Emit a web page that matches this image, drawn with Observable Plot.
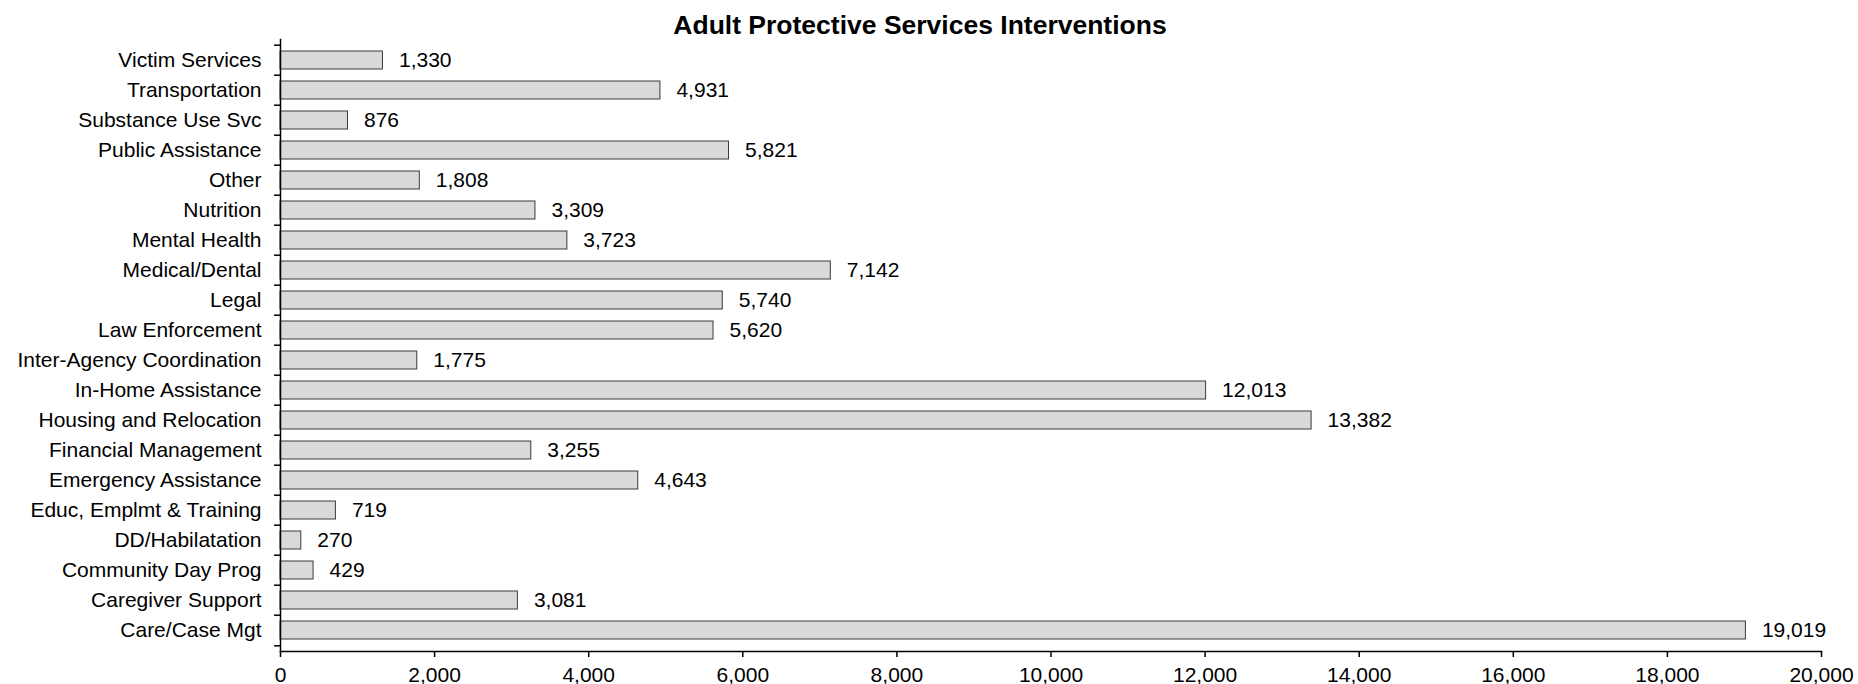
<!DOCTYPE html>
<html>
<head>
<meta charset="utf-8">
<script src="https://cdn.jsdelivr.net/npm/d3@7"></script>
<script src="https://cdn.jsdelivr.net/npm/@observablehq/plot@0.6"></script>
<style>
  html, body { margin: 0; padding: 0; background: white; overflow: hidden; }
  #title {
    box-sizing: border-box;
    width: 1840px; height: 34px; padding-top: 12px;
    font-family: "Liberation Sans", Arial, sans-serif;
    font-weight: bold; font-size: 26.5px; line-height: 26.5px;
    text-align: center; color: black; overflow: visible; white-space: nowrap;
  }
  #chart svg { display: block; }
</style>
</head>
<body>
<div id="title">Adult Protective Services Interventions</div>
<div id="chart"></div>
<script>
const categories = [
  "Victim Services", "Transportation", "Substance Use Svc", "Public Assistance",
  "Other", "Nutrition", "Mental Health", "Medical/Dental", "Legal",
  "Law Enforcement", "Inter-Agency Coordination", "In-Home Assistance",
  "Housing and Relocation", "Financial Management", "Emergency Assistance",
  "Educ, Emplmt & Training", "DD/Habilatation", "Community Day Prog",
  "Caregiver Support", "Care/Case Mgt"
];
const values = [
  1330, 4931, 876, 5821, 1808, 3309, 3723, 7142, 5740, 5620,
  1775, 12013, 13382, 3255, 4643, 719, 270, 429, 3081, 19019
];
const xTicks = [0, 2000, 4000, 6000, 8000, 10000, 12000, 14000, 16000, 18000, 20000];

const data = categories.map((c, i) => ({category: c, value: values[i]}));

const width = 1858, height = 650;
const marginTop = 5, marginBottom = 33, marginLeft = 280, marginRight = 37;
const padInner = 0.4;
const step = (height - marginTop - marginBottom) / categories.length;
const fmt = d3.format(",");

const chart = Plot.plot({
  width, height, marginTop, marginBottom, marginLeft, marginRight,
  style: {fontSize: "21px", fontFamily: "'Liberation Sans', Arial, sans-serif", color: "black", background: "white", overflow: "visible"},
  x: {domain: [0, 20000]},
  y: {domain: categories, paddingInner: padInner, paddingOuter: padInner / 2},
  marks: [
    Plot.barX(data, {x: "value", y: "category", fill: "#d9d9d9", stroke: "#3a3a3a", strokeWidth: 1}),
    Plot.text(data, {x: "value", y: "category", text: d => fmt(d.value), textAnchor: "start", dx: 16, fill: "black"}),
    Plot.axisY({tickSize: 6, text: null, label: null, dy: -step / 2, strokeWidth: 1.5}),
    Plot.axisY([categories[categories.length - 1]], {tickSize: 6, text: null, label: null, dy: step / 2, strokeWidth: 1.5}),
    Plot.axisY({tickSize: 0, tickPadding: 19, label: null}),
    Plot.axisX({ticks: xTicks, tickFormat: fmt, tickSize: 6, tickPadding: 10, label: null, strokeWidth: 1.5}),
    Plot.frame({anchor: "left", strokeWidth: 1.5}),
    Plot.frame({anchor: "bottom", strokeWidth: 1.5})
  ]
});
document.getElementById("chart").appendChild(chart);
</script>
</body>
</html>
